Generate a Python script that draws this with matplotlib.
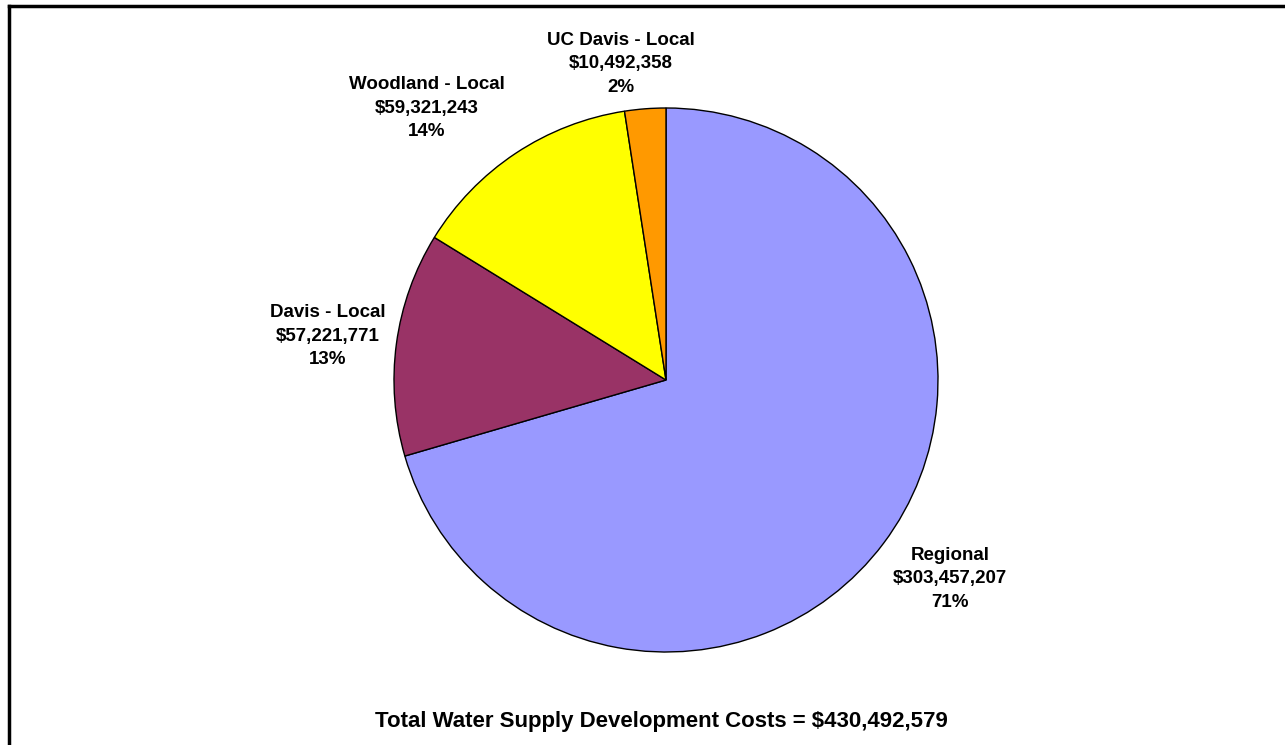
import matplotlib
matplotlib.use("Agg")
from matplotlib import pyplot as plt
from matplotlib.lines import Line2D

# cost breakdown, in dollars
names = ["Regional", "Davis - Local", "Woodland - Local", "UC Davis - Local"]
costs = [303457207, 57221771, 59321243, 10492358]
pcts = [71, 13, 14, 2]
colors = ["#9999FF", "#993366", "#FFFF00", "#FF9900"]

# label positions in pie units (radius = 1)
label_xy = [(1.044, -0.730), (-1.243, 0.160), (-0.879, 1.0), (-0.165, 1.162)]

plt.rcParams['font.family'] = ['Liberation Sans', 'DejaVu Sans']

fig = plt.figure(figsize=(12.85, 7.45), dpi=100)
ax = fig.add_axes([394 / 1285, 93 / 745, 544 / 1285, 544 / 745])
ax.pie(costs, colors=colors, startangle=90, counterclock=False, radius=1,
       wedgeprops=dict(edgecolor="black", linewidth=1))
ax.set_xlim(-1, 1)
ax.set_ylim(-1, 1)
ax.set_aspect("auto")
ax.axis("off")

for name, c, p, (x, y) in zip(names, costs, pcts, label_xy):
    ax.text(x, y, f"{name}\n${c:,}\n{p}%",
            ha="center", va="center", fontsize=13.5, fontweight="bold",
            linespacing=1.5, clip_on=False)

total = sum(costs)
ax.text(-0.018, -1.257, f"Total Water Supply Development Costs = ${total:,}",
        ha="center", va="center", fontsize=16, fontweight="bold", clip_on=False)

# chart border (top and left edges)
fig.add_artist(Line2D([9 / 1285, 1], [1 - 6 / 745, 1 - 6 / 745], color="black",
                      linewidth=2.5, transform=fig.transFigure))
fig.add_artist(Line2D([9 / 1285, 9 / 1285], [0, 1 - 6 / 745], color="black",
                      linewidth=2.5, transform=fig.transFigure))

fig.savefig("out.png", dpi=100)
